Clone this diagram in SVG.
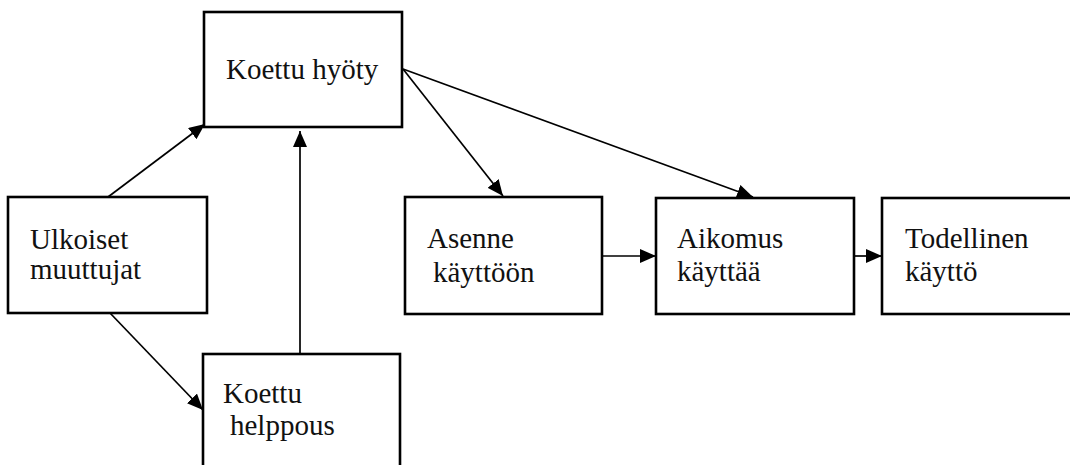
<svg xmlns="http://www.w3.org/2000/svg" width="1070" height="465" viewBox="0 0 1070 465">
<defs>
<style>
.box{fill:#fff;stroke:#000;stroke-width:2.6}
.lbl{font-family:"Liberation Serif","Times New Roman",serif;font-size:29px;fill:#111}
.con{stroke:#000;stroke-width:1.7;fill:none;marker-end:url(#ah)}
</style>
<marker id="ah" markerWidth="16" markerHeight="14" refX="16" refY="7" orient="auto" markerUnits="userSpaceOnUse">
<path d="M0,0 L16,7 L0,14 Z" fill="#000"/>
</marker>
</defs>
<rect width="1070" height="465" fill="#fff"/>
<g id="connectors">
<line class="con" x1="108" y1="197" x2="205" y2="124"/>
<line class="con" x1="110" y1="313" x2="203" y2="410"/>
<line class="con" x1="300" y1="354" x2="300" y2="131"/>
<line class="con" x1="403" y1="69" x2="503" y2="196"/>
<line class="con" x1="403" y1="69" x2="753" y2="197"/>
<line class="con" x1="602" y1="256" x2="656" y2="256"/>
<line class="con" x1="854" y1="256" x2="882" y2="256"/>
</g>
<g id="koettu-hyoty">
<rect class="box" x="204" y="12" width="198" height="115"/>
<text class="lbl" x="226" y="79">Koettu hyöty</text>
</g>
<g id="ulkoiset-muuttujat">
<rect class="box" x="8" y="197" width="199" height="116"/>
<text class="lbl" x="30" y="249">Ulkoiset</text>
<text class="lbl" x="30" y="279">muuttujat</text>
</g>
<g id="koettu-helppous">
<rect class="box" x="203" y="354" width="197" height="130"/>
<text class="lbl" x="223" y="403">Koettu</text>
<text class="lbl" x="230" y="435">helppous</text>
</g>
<g id="asenne-kayttoon">
<rect class="box" x="405" y="197" width="197" height="117"/>
<text class="lbl" x="427" y="248">Asenne</text>
<text class="lbl" x="433" y="282">käyttöön</text>
</g>
<g id="aikomus-kayttaa">
<rect class="box" x="656" y="198" width="198" height="116"/>
<text class="lbl" x="677" y="248">Aikomus</text>
<text class="lbl" x="677" y="281">käyttää</text>
</g>
<g id="todellinen-kaytto">
<rect class="box" x="882" y="198" width="200" height="116"/>
<text class="lbl" x="905" y="248">Todellinen</text>
<text class="lbl" x="905" y="281">käyttö</text>
</g>
</svg>
